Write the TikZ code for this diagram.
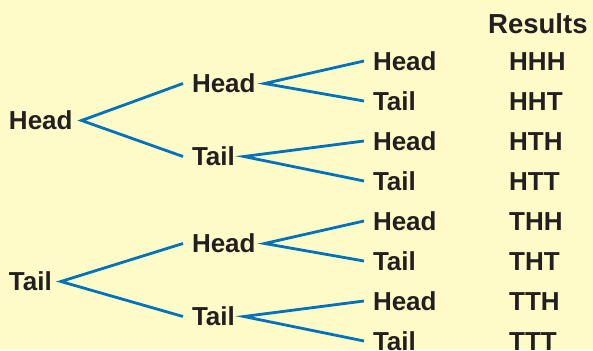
\documentclass[tikz,border=0pt]{standalone}
\usepackage{fontspec}
\setmainfont{Liberation Sans}
\definecolor{bg}{RGB}{255,251,200}
\definecolor{br}{RGB}{0,114,188}
\definecolor{ink}{RGB}{35,31,32}
\begin{document}
\begin{tikzpicture}[x=1pt,y=-1pt,
  lbl/.style={anchor=west,inner sep=0pt,outer xsep=9pt,outer ysep=0pt,
    text height=18.6pt,text depth=0pt,text=ink,
    font=\fontsize{26}{30}\selectfont\bfseries},
  res/.style={anchor=west,inner sep=0pt,text height=18.6pt,text depth=0pt,text=ink,
    font=\fontsize{26}{30}\selectfont\bfseries},
  branch/.style={draw=br,line width=2.8pt}]
\fill[bg] (0,0) rectangle (593,350);
\useasboundingbox (0,0) rectangle (593,350);
% level 1
\node[lbl] (a) at (0,120.5) {Head};
\node[lbl] (b) at (0,281.5) {Tail};
% level 2
\node[lbl] (ah) at (183,83.5) {Head};
\node[lbl] (at) at (183,156.5) {Tail};
\node[lbl] (bh) at (183,243.5) {Head};
\node[lbl] (bt) at (183,316.5) {Tail};
% level 3
\node[lbl] (ahh) at (364,61) {Head};
\node[lbl] (aht) at (364,101) {Tail};
\node[lbl] (ath) at (364,141) {Head};
\node[lbl] (att) at (364,181) {Tail};
\node[lbl] (bhh) at (364,221) {Head};
\node[lbl] (bht) at (364,261) {Tail};
\node[lbl] (bth) at (364,301) {Head};
\node[lbl] (btt) at (364,341) {Tail};
% results
\node[res,font=\fontsize{27.5}{32}\selectfont\bfseries,text height=19.7pt] (rt) at (488,23.3) {Results};
\node[res] (r1) at (509,61) {HHH};
\node[res] (r2) at (509,101) {HHT};
\node[res] (r3) at (509,141) {HTH};
\node[res] (r4) at (509,181) {HTT};
\node[res] (r5) at (509,221) {THH};
\node[res] (r6) at (509,261) {THT};
\node[res] (r7) at (509,301) {TTH};
\node[res] (r8) at (509,341) {TTT};
% branches
\draw[branch] (ah.west) -- (a.east) -- (at.west);
\draw[branch] (bh.west) -- (b.east) -- (bt.west);
\draw[branch] (ahh.west) -- (ah.east) -- (aht.west);
\draw[branch] (ath.west) -- (at.east) -- (att.west);
\draw[branch] (bhh.west) -- (bh.east) -- (bht.west);
\draw[branch] (bth.west) -- (bt.east) -- (btt.west);
\end{tikzpicture}
\end{document}
